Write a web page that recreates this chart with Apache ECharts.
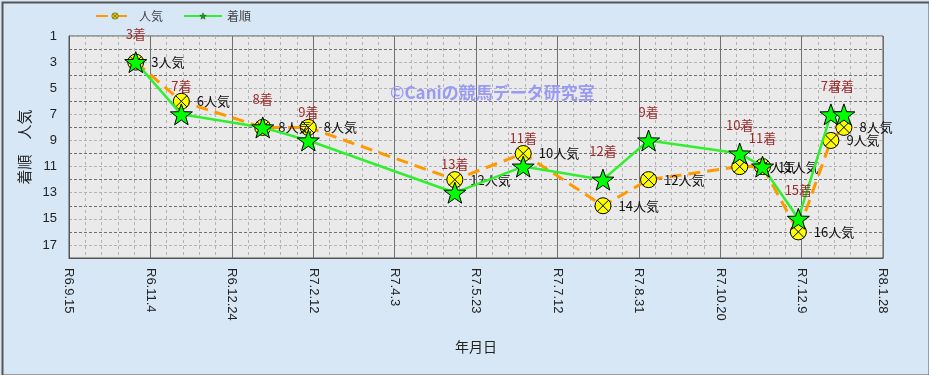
<!DOCTYPE html>
<html>
<head>
<meta charset="utf-8">
<script src="https://cdn.jsdelivr.net/npm/echarts@6/dist/echarts.min.js"></script>
<style>
html,body{margin:0;padding:0;background:#d8e7f6;}
#chart{width:929px;height:375px;}
</style>
</head>
<body>
<div id="chart"></div>
<script>
// ---- data ----
const raceDates = ['2024-10-26','2024-11-23','2025-01-12','2025-02-09','2025-05-10','2025-06-21','2025-08-09','2025-09-06','2025-11-01','2025-11-15','2025-12-07','2025-12-27','2026-01-04'];
const ninki =     [3, 6, 8, 8, 12, 10, 14, 12, 11, 11, 16, 9, 8];
const chakujun =  [3, 7, 8, 9, 13, 11, 12,  9, 10, 11, 15, 7, 7];
const axisStartDate = '2024-09-15';
const axisEndDate = '2026-01-28';
const tickStepDays = 50;
const yMin = 1, yMax = 18;
const seriesNames = ['人気', '着順'];

const DAY = 86400000;
function utc(s){ const p = s.split('-').map(Number); return Date.UTC(p[0], p[1]-1, p[2]); }
const base = utc(axisStartDate);
function dayOffset(s){ return Math.round((utc(s) - base) / DAY); }
function reiwa(v){
  const d = new Date(base + v * DAY);
  return 'R' + (d.getUTCFullYear() - 2018) + '.' + (d.getUTCMonth() + 1) + '.' + d.getUTCDate();
}
const xs = raceDates.map(dayOffset);
const ninkiData = xs.map((x, i) => [x, ninki[i]]);
const chakuData = xs.map((x, i) => [x, chakujun[i]]);

const starPath = 'path://M50 0 L61.76 33.82 L97.55 34.55 L69.02 56.18 L79.39 90.45 L50 70 L20.61 90.45 L30.98 56.18 L2.45 34.55 L38.24 33.82 Z';
const crossCirclePath = 'path://M0 50 A50 50 0 1 1 100 50 A50 50 0 1 1 0 50 Z M14.6 14.6 L85.4 85.4 M85.4 14.6 L14.6 85.4';

const chart = echarts.init(document.getElementById('chart'), null, {renderer: 'canvas'});
const option = {
  animation: false,
  backgroundColor: '#d8e7f6',
  textStyle: {fontFamily: '"Noto Sans CJK JP", "Liberation Sans", sans-serif'},
  legend: {
    left: 90, top: 5,
    itemWidth: 38, itemHeight: 8, itemGap: 20,
    textStyle: {color: '#444', fontSize: 12, fontFamily: '"Noto Sans CJK JP", sans-serif'},
    data: [
      {name: seriesNames[0], itemStyle: {color: '#e0d000', borderColor: '#333', borderWidth: 0.5}},
      {name: seriesNames[1], itemStyle: {color: '#00b000', borderColor: '#333', borderWidth: 0.5}}
    ]
  },
  grid: {
    left: 69, right: 46, top: 36, bottom: 117,
    show: true, backgroundColor: '#eaeaea', borderColor: '#555', borderWidth: 1
  },
  xAxis: {
    type: 'value',
    min: 0, max: dayOffset(axisEndDate), interval: tickStepDays,
    name: '年月日', nameLocation: 'middle', nameGap: 82,
    nameTextStyle: {fontSize: 14, color: '#222', fontFamily: '"Noto Sans CJK JP", sans-serif'},
    axisLine: {show: true, lineStyle: {color: '#555'}},
    axisTick: {show: false},
    axisLabel: {
      rotate: -90, margin: 10, fontSize: 13, color: '#222',
      fontFamily: '"Liberation Sans", Arial, sans-serif',
      formatter: v => reiwa(v)
    },
    splitLine: {show: true, lineStyle: {color: '#707070', width: 1}},
    minorTick: {show: false, splitNumber: 5},
    minorSplitLine: {show: true, lineStyle: {color: '#b4b4b4', type: [3, 3]}}
  },
  yAxis: {
    type: 'value', inverse: true,
    min: yMin, max: yMax, interval: 1,
    name: '着順　人気', nameLocation: 'middle', nameGap: 35, nameRotate: 90,
    nameTextStyle: {fontSize: 15, color: '#222', fontFamily: '"Noto Sans CJK JP", sans-serif'},
    axisLine: {show: true, lineStyle: {color: '#555'}},
    axisTick: {show: false},
    axisLabel: {
      margin: 12, fontSize: 13, color: '#222',
      fontFamily: '"Liberation Sans", Arial, sans-serif',
      formatter: v => (v % 2 === 1 && v < yMax) ? String(v) : ''
    },
    splitLine: {show: true, lineStyle: {color: ['#b4b4b4', '#707070'], type: [3, 2]}}
  },
  graphic: [
    {type: 'text', left: 390, top: 84, z: 1, silent: true,
     style: {text: '©Caniの競馬データ研究室', fill: '#9a9af4', fontSize: 17, fontWeight: 'bold',
             fontFamily: '"Noto Sans CJK JP", sans-serif'}},
    {type: 'rect', left: 0, top: 0, z: 100, silent: true,
     shape: {x: 1, y: 1, width: 927, height: 373},
     style: {fill: 'none', stroke: '#555', lineWidth: 2}}
  ],
  series: [
    {
      name: seriesNames[0], type: 'line', data: ninkiData,
      symbol: crossCirclePath, symbolSize: 16, symbolKeepAspect: true,
      itemStyle: {color: '#ffff00', borderColor: '#000', borderWidth: 1},
      lineStyle: {color: '#ff9900', width: 3, type: [12, 7]},
      label: {show: true, position: 'right', distance: 7, color: '#111', fontSize: 13,
              fontFamily: '"Noto Sans CJK JP", sans-serif',
              formatter: p => p.value[1] + '人気'},
      emphasis: {disabled: true}, z: 2
    },
    {
      name: seriesNames[1], type: 'line', data: chakuData,
      symbol: starPath, symbolSize: 22, symbolKeepAspect: true,
      itemStyle: {color: '#00ff00', borderColor: '#000', borderWidth: 1},
      lineStyle: {color: '#2fef2f', width: 2.5},
      label: {show: true, position: 'top', distance: 11, color: '#9b2b2b', fontSize: 13,
              fontFamily: '"Noto Sans CJK JP", sans-serif',
              formatter: p => p.value[1] + '着'},
      emphasis: {disabled: true}, z: 3
    }
  ]
};
chart.setOption(option);
</script>
</body>
</html>
